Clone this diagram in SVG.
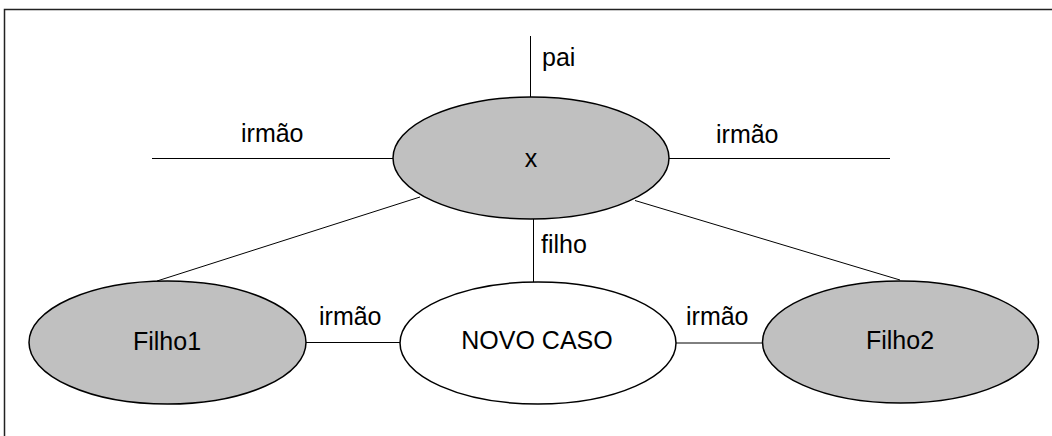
<svg xmlns="http://www.w3.org/2000/svg" width="1052" height="436" viewBox="0 0 1052 436">
  <style>
    .frame { fill: none; stroke: #222; stroke-width: 1.5; }
    .node { stroke: #000; stroke-width: 1.5; }
    .grey { fill: #c0c0c0; }
    .white { fill: #fff; }
    .edge { stroke: #000; stroke-width: 1; fill: none; }
    text { font-family: "Liberation Sans", Arial, sans-serif; font-size: 25px; fill: #000; }
    .mid { text-anchor: middle; }
  </style>
  <rect x="0" y="0" width="1052" height="436" fill="#fff"/>
  <rect class="frame" x="4.5" y="9.5" width="1100" height="500"/>

  <g id="connectors">
    <line class="edge" x1="530.5" y1="36" x2="530.5" y2="97"/>
    <line class="edge" x1="152" y1="158.5" x2="393" y2="158.5"/>
    <line class="edge" x1="669" y1="158.5" x2="890" y2="158.5"/>
    <line class="edge" x1="533.5" y1="219" x2="533.5" y2="282"/>
    <line class="edge" x1="420" y1="197" x2="157" y2="281"/>
    <line class="edge" x1="635" y1="200.5" x2="900" y2="280"/>
    <line class="edge" x1="306" y1="342.5" x2="400" y2="342.5"/>
    <line class="edge" x1="676" y1="343" x2="763" y2="343"/>
    <text x="542" y="66">pai</text>
    <text x="241" y="142">irmão</text>
    <text x="716" y="143">irmão</text>
    <text x="541" y="253">filho</text>
    <text x="319" y="325">irmão</text>
    <text x="686" y="325">irmão</text>
  </g>

  <g id="node-x">
    <ellipse class="node grey" cx="531" cy="158" rx="138" ry="61"/>
    <text class="mid" x="531" y="167">x</text>
  </g>
  <g id="node-filho1">
    <ellipse class="node grey" cx="167.5" cy="342.5" rx="138.5" ry="61.5"/>
    <text class="mid" x="167" y="350">Filho1</text>
  </g>
  <g id="node-novo-caso">
    <ellipse class="node white" cx="538" cy="343" rx="138" ry="61"/>
    <text class="mid" x="537" y="349">NOVO CASO</text>
  </g>
  <g id="node-filho2">
    <ellipse class="node grey" cx="900.5" cy="342" rx="138" ry="61"/>
    <text class="mid" x="900" y="349">Filho2</text>
  </g>
</svg>
